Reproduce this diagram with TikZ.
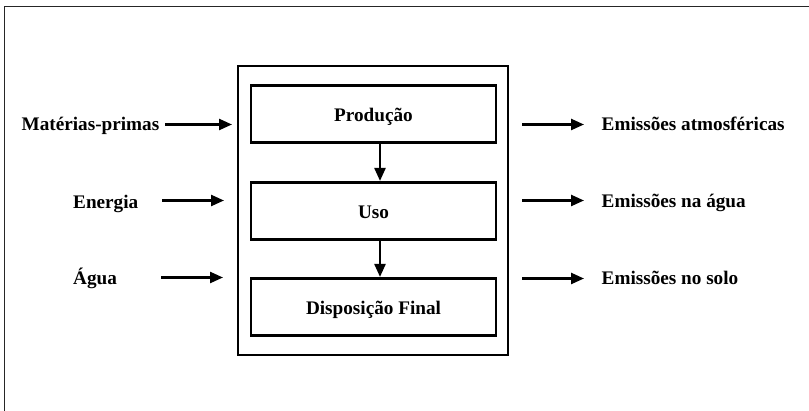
\documentclass[tikz,border=0pt]{standalone}
\usepackage{fontspec}
\setmainfont{Liberation Serif}
\usetikzlibrary{arrows.meta}
\begin{document}
\begin{tikzpicture}[x=1pt,y=-1pt,
  lbl/.style={font=\fontsize{19.2}{21}\selectfont\bfseries, inner sep=0pt, anchor=base west},
  stage/.style={draw, line width=2.6pt, minimum width=245pt, minimum height=57.5pt, inner sep=0pt, text height=15pt, text depth=0.5pt, font=\fontsize{19.2}{21}\selectfont\bfseries},
  flow/.style={-{Triangle[length=13pt,width=11pt]}, line width=2.4pt}]
\useasboundingbox (0,0) rectangle (809,411);
\draw[line width=1.5pt, black!85] (4.5,411) -- (4.5,6.5) -- (809,6.5);
\node[draw, line width=2.6pt, minimum width=270pt, minimum height=289pt, inner sep=0pt] (sys) at (373,210.5) {};
\node[stage] (prod) at (373.5,114) {Produção};
\node[stage] (uso) at (373.5,211) {Uso};
\node[stage] (disp) at (373.5,307) {Disposição Final};
\draw[flow] (prod.south -| 380,0) -- (uso.north -| 380,0);
\draw[flow] (uso.south -| 380,0) -- (disp.north -| 380,0);
% inputs
\node[lbl] (mp) at (21.5,131) {Matérias-primas};
\node[lbl] (en) at (73,208.3) {Energia};
\node[lbl] (ag) at (73,285) {Água};
\coordinate (mpS) at (165,124.5); \coordinate (mpE) at (232,124.5);
\coordinate (enS) at (162,200.5); \coordinate (enE) at (224,200.5);
\coordinate (agS) at (161,277.5); \coordinate (agE) at (223,277.5);
\draw[flow] (mpS) -- (mpE);
\draw[flow] (enS) -- (enE);
\draw[flow] (agS) -- (agE);
% outputs
\node[lbl] (ea) at (601.5,130.7) {Emissões atmosféricas};
\node[lbl] (eh) at (601.5,207.3) {Emissões na água};
\node[lbl] (es) at (601.5,285) {Emissões no solo};
\coordinate (eaS) at (522,124.5); \coordinate (eaE) at (584,124.5);
\coordinate (ehS) at (522,200.5); \coordinate (ehE) at (584,200.5);
\coordinate (esS) at (522,278.5); \coordinate (esE) at (584,278.5);
\draw[flow] (eaS) -- (eaE);
\draw[flow] (ehS) -- (ehE);
\draw[flow] (esS) -- (esE);
\end{tikzpicture}
\end{document}
